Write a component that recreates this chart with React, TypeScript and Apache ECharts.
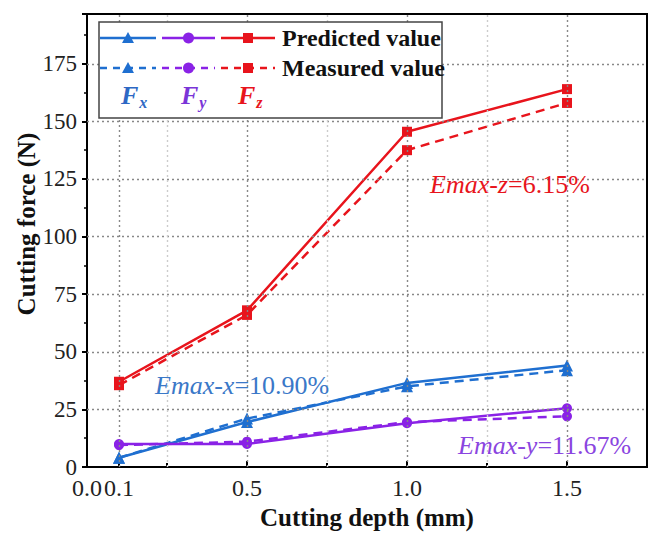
import React, { useEffect, useRef } from "react";
import * as echarts from "echarts";

// Cutting depth (mm) at which forces were evaluated
const depths = [0.1, 0.5, 1.0, 1.5];

// Cutting force components (N)
const fxPredicted = [4, 19.5, 36.5, 44];
const fxMeasured = [4, 21, 35, 42];
const fyPredicted = [10, 10, 19, 25.5];
const fyMeasured = [9.5, 11, 19.5, 22];
const fzPredicted = [37, 68, 145.5, 164];
const fzMeasured = [35.5, 66, 137.5, 158];

// Axis ticks / labels
const xLabelValues = [0, 0.1, 0.5, 1.0, 1.5];
const xMajorTicks = [0.1, 0.5, 1.0, 1.5];
const xMinorTicks = [0.25, 0.75, 1.25];
const yGridValues = [25, 50, 75, 100, 125, 150, 175];

const BLUE = "#1f6fd0";
const PURPLE = "#8a22e6";
const RED = "#e8141c";
const SERIF = "Liberation Serif";

const GRID = { left: 87, top: 14, right: 4, bottom: 68 };

function seriesOf(
  name: string,
  values: number[],
  color: string,
  symbol: string,
  dashed: boolean
) {
  return {
    type: "line",
    name,
    data: depths.map((d, i) => [d, values[i]]),
    symbol,
    symbolSize: symbol === "triangle" ? 12 : 10,
    lineStyle: { color, width: 2.5, type: dashed ? [9, 6] : "solid" },
    itemStyle: { color },
    z: dashed ? 3 : 4,
  };
}

function legendSample(
  x0: number,
  x1: number,
  y: number,
  color: string,
  shape: string,
  dashed: boolean
): any[] {
  const cx = (x0 + x1) / 2;
  const els: any[] = [
    {
      type: "line",
      shape: { x1: x0, y1: y, x2: x1, y2: y },
      style: { stroke: color, lineWidth: 2.5, lineDash: dashed ? [7, 6] : null },
      z: 10,
    },
  ];
  if (shape === "triangle") {
    els.push({
      type: "polygon",
      shape: { points: [[cx, y - 6], [cx + 6, y + 5], [cx - 6, y + 5]] },
      style: { fill: color },
      z: 11,
    });
  } else if (shape === "circle") {
    els.push({ type: "circle", shape: { cx, cy: y, r: 5.5 }, style: { fill: color }, z: 11 });
  } else {
    els.push({
      type: "rect",
      shape: { x: cx - 5, y: y - 5, width: 10, height: 10 },
      style: { fill: color },
      z: 11,
    });
  }
  return els;
}

function forceLabel(x: number, y: number, sub: string, color: string) {
  return {
    type: "text",
    x,
    y,
    z: 11,
    style: {
      text: `{f|F}{s|${sub}}`,
      fill: color,
      verticalAlign: "middle",
      rich: {
        f: { fontFamily: SERIF, fontStyle: "italic", fontWeight: "bold", fontSize: 26, fill: color },
        s: {
          fontFamily: SERIF,
          fontStyle: "italic",
          fontWeight: "bold",
          fontSize: 16,
          fill: color,
          padding: [14, 0, 0, 1],
        },
      },
    },
  };
}

function emaxLabel(x: number, y: number, prefix: string, value: string, color: string) {
  return {
    type: "text",
    x,
    y,
    z: 12,
    style: {
      text: `{i|${prefix}}{n|${value}}`,
      verticalAlign: "middle",
      rich: {
        i: { fontFamily: SERIF, fontStyle: "italic", fontSize: 26, fill: color },
        n: { fontFamily: SERIF, fontSize: 26, fill: color },
      },
    },
  };
}

export default function App() {
  const ref = useRef<HTMLDivElement>(null);

  useEffect(() => {
    if (!ref.current) return;
    const chart = echarts.init(ref.current, undefined, { renderer: "svg" });

    // dotted grid lines, drawn as mark lines so they sit exactly on the chosen values
    const gridLines = (values: number[], axis: "xAxis" | "yAxis", color: string) => ({
      silent: true,
      symbol: ["none", "none"],
      label: { show: false },
      emphasis: { disabled: true },
      lineStyle: { color, type: [2, 3], width: 1.4, opacity: 1 },
      data: values.map((v) => ({ [axis]: v })),
    });

    const series: any[] = [
      seriesOf("Fx measured", fxMeasured, BLUE, "triangle", true),
      seriesOf("Fy measured", fyMeasured, PURPLE, "circle", true),
      seriesOf("Fz measured", fzMeasured, RED, "rect", true),
      seriesOf("Fx predicted", fxPredicted, BLUE, "triangle", false),
      seriesOf("Fy predicted", fyPredicted, PURPLE, "circle", false),
      seriesOf("Fz predicted", fzPredicted, RED, "rect", false),
    ];
    series.unshift({
      type: "line",
      name: "grid",
      data: [],
      z: 1,
      markLine: gridLines(xMajorTicks, "xAxis", "#888888"),
    });
    series.unshift({
      type: "line",
      name: "grid-minor",
      data: [],
      z: 1,
      markLine: gridLines(xMinorTicks, "xAxis", "#cccccc"),
    });
    series.unshift({
      type: "line",
      name: "grid-y",
      data: [],
      z: 1,
      markLine: gridLines(yGridValues, "yAxis", "#888888"),
    });

    const legendGraphics: any[] = [
      {
        type: "rect",
        shape: { x: 99, y: 22, width: 343, height: 96 },
        style: { fill: "#fff", stroke: "#444", lineWidth: 1.5 },
        z: 9,
      },
      ...legendSample(100, 156, 38, BLUE, "triangle", false),
      ...legendSample(162, 215, 38, PURPLE, "circle", false),
      ...legendSample(221, 275, 38, RED, "rect", false),
      ...legendSample(100, 156, 68, BLUE, "triangle", true),
      ...legendSample(162, 215, 68, PURPLE, "circle", true),
      ...legendSample(221, 275, 68, RED, "rect", true),
      {
        type: "text",
        x: 282,
        y: 38,
        z: 11,
        style: {
          text: "Predicted value",
          fontFamily: SERIF,
          fontWeight: "bold",
          fontSize: 24,
          fill: "#111",
          verticalAlign: "middle",
        },
      },
      {
        type: "text",
        x: 282,
        y: 68,
        z: 11,
        style: {
          text: "Measured value",
          fontFamily: SERIF,
          fontWeight: "bold",
          fontSize: 24,
          fill: "#111",
          verticalAlign: "middle",
        },
      },
      forceLabel(121, 95, "x", "#2d68c4"),
      forceLabel(181, 95, "y", "#7a35d8"),
      forceLabel(238, 95, "z", RED),
    ];

    chart.setOption({
      animation: false,
      backgroundColor: "#fff",
      textStyle: { fontFamily: SERIF },
      grid: {
        ...GRID,
        show: true,
        borderColor: "#000",
        borderWidth: 2,
      },
      xAxis: [
        {
          type: "value",
          min: 0,
          max: 1.75,
          name: "Cutting depth (mm)",
          nameLocation: "middle",
          nameGap: 37,
          nameTextStyle: { fontFamily: SERIF, fontWeight: "bold", fontSize: 25, color: "#111" },
          axisLine: { lineStyle: { color: "#000", width: 2 } },
          axisTick: { inside: true, length: 6, customValues: xMajorTicks, lineStyle: { color: "#000", width: 2 } },
          axisLabel: {
            customValues: xLabelValues,
            formatter: (v: number) => v.toFixed(1),
            fontFamily: SERIF,
            fontSize: 24,
            color: "#222",
            margin: 9,
          },
          splitLine: { show: false },
        },
        {
          type: "value",
          min: 0,
          max: 1.75,
          position: "bottom",
          axisLine: { show: false },
          axisTick: { inside: true, length: 4, customValues: xMinorTicks, lineStyle: { color: "#000", width: 2 } },
          axisLabel: { show: false },
          splitLine: { show: false },
        },
      ],
      yAxis: {
        type: "value",
        min: 0,
        max: 196.6,
        interval: 25,
        axisLine: { show: true, lineStyle: { color: "#000", width: 2 } },
        axisTick: { show: true, inside: false, length: 5, lineStyle: { color: "#000", width: 2 } },
        minorTick: { show: true, splitNumber: 2, length: 3, lineStyle: { color: "#000", width: 1.5 } },
        axisLabel: {
          fontFamily: SERIF,
          fontSize: 23,
          color: "#222",
          margin: 10,
          showMaxLabel: false,
        },
        splitLine: { show: false },
      },
      series,
      graphic: [
        ...legendGraphics,
        {
          type: "text",
          x: 26,
          y: 224,
          rotation: Math.PI / 2,
          style: {
            text: "Cutting force (N)",
            fontFamily: SERIF,
            fontWeight: "bold",
            fontSize: 25,
            fill: "#111",
            align: "center",
            verticalAlign: "middle",
          },
        },
        emaxLabel(430, 184, "Emax-z", "=6.15%", RED),
        emaxLabel(155, 385, "Emax-x", "=10.90%", "#3a78c8"),
        emaxLabel(458, 445, "Emax-y", "=11.67%", "#8a45e0"),
      ],
    });

    return () => chart.dispose();
  }, []);

  return (
    <div
      ref={ref}
      style={{ position: "fixed", left: 0, top: 0, width: 651, height: 535 }}
    />
  );
}
